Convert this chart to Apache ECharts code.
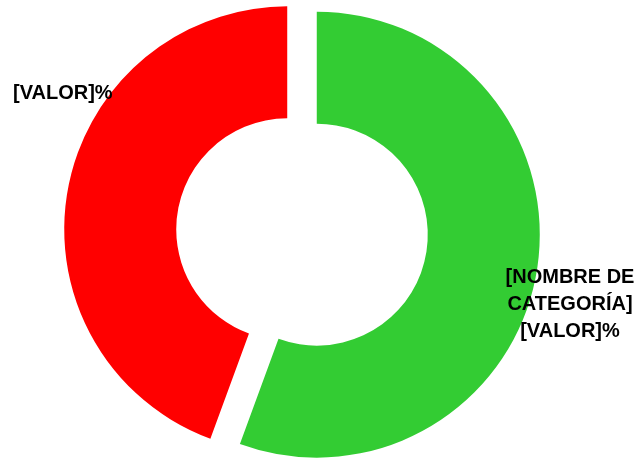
<!DOCTYPE html>
<html>
<head>
<meta charset="utf-8">
<script src="https://cdn.jsdelivr.net/npm/echarts@6/dist/echarts.min.js"></script>
<style>
html,body{margin:0;padding:0;background:#fff;}
#chart{width:639px;height:462px;}
</style>
</head>
<body>
<div id="chart"></div>
<script>
const categories = ['[NOMBRE DE CATEGORÍA]', 'Otra'];
const values = [55.6, 44.4];
const labels = ['[NOMBRE DE\nCATEGORÍA]\n[VALOR]%', '[VALOR]%'];
const colors = ['#33CC33', '#FF0000'];

const chart = echarts.init(document.getElementById('chart'), null, {renderer: 'canvas'});
const data = categories.map((c, i) => ({
  name: c,
  value: values[i],
  selected: true,
  itemStyle: {color: colors[i]},
  select: {itemStyle: {color: colors[i]}}
}));
const labelPos = [
  {x: 570, y: 304, align: 'center'},
  {x: 13, y: 93, align: 'left'}
];
const textStyleBase = {
  fill: '#000',
  fontFamily: 'Liberation Sans',
  fontWeight: 'bold',
  fontSize: 20,
  lineHeight: 27,
  verticalAlign: 'middle'
};
chart.setOption({
  animation: false,
  backgroundColor: '#ffffff',
  graphic: {
    elements: labels.map((t, i) => ({
      type: 'text',
      z: 100,
      zlevel: 1,
      x: labelPos[i].x,
      y: labelPos[i].y,
      style: Object.assign({}, textStyleBase, {text: t, align: labelPos[i].align})
    }))
  },
  series: [{
    type: 'pie',
    zlevel: 0,
    center: [302, 232],
    radius: [111, 223],
    startAngle: 90,
    clockwise: true,
    selectedMode: 'multiple',
    selectedOffset: 15,
    emphasis: {disabled: true},
    data: data,
    label: {show: false},
    labelLine: {show: false}
  }]
});
</script>
</body>
</html>
